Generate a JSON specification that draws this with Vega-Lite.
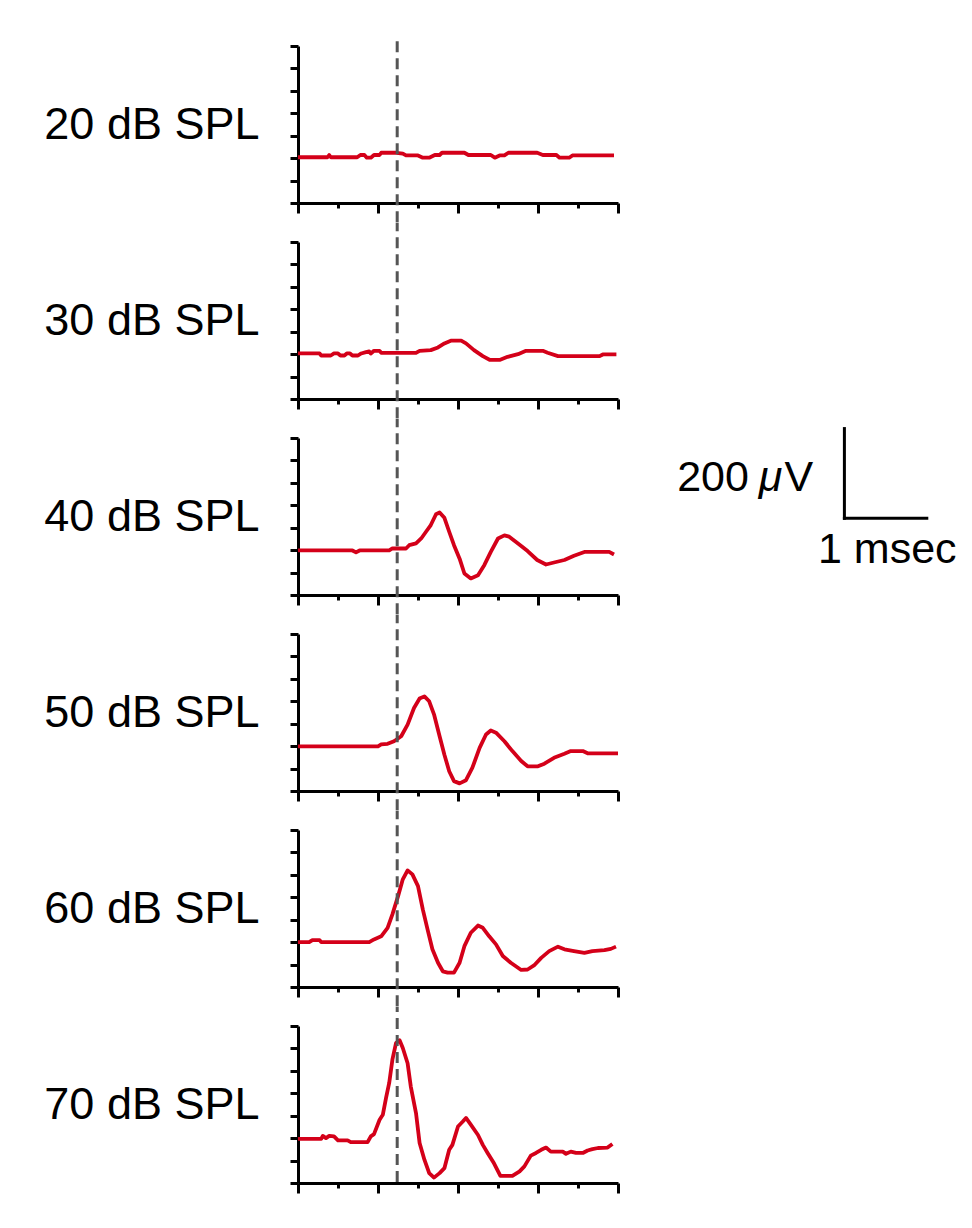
{
  "$schema": "https://vega.github.io/schema/vega-lite/v6.json",
  "background": "white",
  "padding": {"left": 44, "top": 37, "right": 5, "bottom": 5},
  "config": {
    "view": {"stroke": null},
    "axis": {"domainColor": "black", "domainWidth": 3, "tickColor": "black", "tickWidth": 3, "labels": false, "title": null, "grid": false}
  },
  "data": {"values": [
    {"level":"20 dB SPL","kind":"trace","t":0,"v":2},{"level":"20 dB SPL","kind":"trace","t":0.37,"v":2},{"level":"20 dB SPL","kind":"trace","t":0.39,"v":7},{"level":"20 dB SPL","kind":"trace","t":0.41,"v":2},{"level":"20 dB SPL","kind":"trace","t":0.74,"v":2},{"level":"20 dB SPL","kind":"trace","t":0.78,"v":7},{"level":"20 dB SPL","kind":"trace","t":0.83,"v":7},{"level":"20 dB SPL","kind":"trace","t":0.86,"v":1},{"level":"20 dB SPL","kind":"trace","t":0.91,"v":1},{"level":"20 dB SPL","kind":"trace","t":0.95,"v":7},{"level":"20 dB SPL","kind":"trace","t":1.02,"v":7},{"level":"20 dB SPL","kind":"trace","t":1.04,"v":12},{"level":"20 dB SPL","kind":"trace","t":1.23,"v":12},{"level":"20 dB SPL","kind":"trace","t":1.31,"v":10},{"level":"20 dB SPL","kind":"trace","t":1.35,"v":6},{"level":"20 dB SPL","kind":"trace","t":1.5,"v":6},{"level":"20 dB SPL","kind":"trace","t":1.56,"v":1},{"level":"20 dB SPL","kind":"trace","t":1.64,"v":1},{"level":"20 dB SPL","kind":"trace","t":1.71,"v":7},{"level":"20 dB SPL","kind":"trace","t":1.77,"v":7},{"level":"20 dB SPL","kind":"trace","t":1.8,"v":12},{"level":"20 dB SPL","kind":"trace","t":2.08,"v":12},{"level":"20 dB SPL","kind":"trace","t":2.13,"v":7},{"level":"20 dB SPL","kind":"trace","t":2.41,"v":7},{"level":"20 dB SPL","kind":"trace","t":2.46,"v":1},{"level":"20 dB SPL","kind":"trace","t":2.52,"v":6},{"level":"20 dB SPL","kind":"trace","t":2.58,"v":6},{"level":"20 dB SPL","kind":"trace","t":2.63,"v":12},{"level":"20 dB SPL","kind":"trace","t":2.99,"v":12},{"level":"20 dB SPL","kind":"trace","t":3.06,"v":7},{"level":"20 dB SPL","kind":"trace","t":3.23,"v":7},{"level":"20 dB SPL","kind":"trace","t":3.27,"v":1},{"level":"20 dB SPL","kind":"trace","t":3.39,"v":1},{"level":"20 dB SPL","kind":"trace","t":3.43,"v":6},{"level":"20 dB SPL","kind":"trace","t":3.95,"v":6},
    {"level":"30 dB SPL","kind":"trace","t":0,"v":1.5},{"level":"30 dB SPL","kind":"trace","t":0.27,"v":1.5},{"level":"30 dB SPL","kind":"trace","t":0.29,"v":-3},{"level":"30 dB SPL","kind":"trace","t":0.41,"v":-3},{"level":"30 dB SPL","kind":"trace","t":0.45,"v":1.5},{"level":"30 dB SPL","kind":"trace","t":0.5,"v":1.5},{"level":"30 dB SPL","kind":"trace","t":0.53,"v":-3},{"level":"30 dB SPL","kind":"trace","t":0.58,"v":-3},{"level":"30 dB SPL","kind":"trace","t":0.61,"v":1.5},{"level":"30 dB SPL","kind":"trace","t":0.65,"v":1.5},{"level":"30 dB SPL","kind":"trace","t":0.68,"v":-3},{"level":"30 dB SPL","kind":"trace","t":0.75,"v":-3},{"level":"30 dB SPL","kind":"trace","t":0.79,"v":1.5},{"level":"30 dB SPL","kind":"trace","t":0.85,"v":4.5},{"level":"30 dB SPL","kind":"trace","t":0.89,"v":6},{"level":"30 dB SPL","kind":"trace","t":0.91,"v":1.5},{"level":"30 dB SPL","kind":"trace","t":0.95,"v":7.4},{"level":"30 dB SPL","kind":"trace","t":1.02,"v":7.4},{"level":"30 dB SPL","kind":"trace","t":1.04,"v":3},{"level":"30 dB SPL","kind":"trace","t":1.475,"v":3},{"level":"30 dB SPL","kind":"trace","t":1.52,"v":7.4},{"level":"30 dB SPL","kind":"trace","t":1.66,"v":8.9},{"level":"30 dB SPL","kind":"trace","t":1.75,"v":15},{"level":"30 dB SPL","kind":"trace","t":1.83,"v":24},{"level":"30 dB SPL","kind":"trace","t":1.91,"v":30},{"level":"30 dB SPL","kind":"trace","t":2.04,"v":30},{"level":"30 dB SPL","kind":"trace","t":2.1,"v":24},{"level":"30 dB SPL","kind":"trace","t":2.2,"v":9},{"level":"30 dB SPL","kind":"trace","t":2.31,"v":-4.5},{"level":"30 dB SPL","kind":"trace","t":2.4,"v":-13},{"level":"30 dB SPL","kind":"trace","t":2.52,"v":-13},{"level":"30 dB SPL","kind":"trace","t":2.62,"v":-6},{"level":"30 dB SPL","kind":"trace","t":2.75,"v":0},{"level":"30 dB SPL","kind":"trace","t":2.85,"v":7.4},{"level":"30 dB SPL","kind":"trace","t":3.06,"v":7.4},{"level":"30 dB SPL","kind":"trace","t":3.12,"v":3},{"level":"30 dB SPL","kind":"trace","t":3.25,"v":-4.5},{"level":"30 dB SPL","kind":"trace","t":3.77,"v":-4.5},{"level":"30 dB SPL","kind":"trace","t":3.81,"v":-0.7},{"level":"30 dB SPL","kind":"trace","t":3.98,"v":-0.7},
    {"level":"40 dB SPL","kind":"trace","t":0,"v":-0.7},{"level":"40 dB SPL","kind":"trace","t":0.68,"v":-0.7},{"level":"40 dB SPL","kind":"trace","t":0.725,"v":-5},{"level":"40 dB SPL","kind":"trace","t":0.77,"v":-0.7},{"level":"40 dB SPL","kind":"trace","t":1.14,"v":-0.7},{"level":"40 dB SPL","kind":"trace","t":1.18,"v":3.7},{"level":"40 dB SPL","kind":"trace","t":1.35,"v":3.7},{"level":"40 dB SPL","kind":"trace","t":1.39,"v":11},{"level":"40 dB SPL","kind":"trace","t":1.475,"v":15},{"level":"40 dB SPL","kind":"trace","t":1.54,"v":26},{"level":"40 dB SPL","kind":"trace","t":1.6,"v":41},{"level":"40 dB SPL","kind":"trace","t":1.66,"v":56},{"level":"40 dB SPL","kind":"trace","t":1.725,"v":80},{"level":"40 dB SPL","kind":"trace","t":1.77,"v":84},{"level":"40 dB SPL","kind":"trace","t":1.83,"v":72},{"level":"40 dB SPL","kind":"trace","t":1.89,"v":41},{"level":"40 dB SPL","kind":"trace","t":1.95,"v":11},{"level":"40 dB SPL","kind":"trace","t":2.02,"v":-19},{"level":"40 dB SPL","kind":"trace","t":2.08,"v":-52},{"level":"40 dB SPL","kind":"trace","t":2.16,"v":-63},{"level":"40 dB SPL","kind":"trace","t":2.25,"v":-56},{"level":"40 dB SPL","kind":"trace","t":2.33,"v":-33},{"level":"40 dB SPL","kind":"trace","t":2.41,"v":-4},{"level":"40 dB SPL","kind":"trace","t":2.5,"v":26},{"level":"40 dB SPL","kind":"trace","t":2.58,"v":33},{"level":"40 dB SPL","kind":"trace","t":2.64,"v":30},{"level":"40 dB SPL","kind":"trace","t":2.75,"v":15},{"level":"40 dB SPL","kind":"trace","t":2.87,"v":-2},{"level":"40 dB SPL","kind":"trace","t":2.99,"v":-22},{"level":"40 dB SPL","kind":"trace","t":3.1,"v":-32},{"level":"40 dB SPL","kind":"trace","t":3.2,"v":-27.5},{"level":"40 dB SPL","kind":"trace","t":3.33,"v":-22},{"level":"40 dB SPL","kind":"trace","t":3.45,"v":-12.6},{"level":"40 dB SPL","kind":"trace","t":3.58,"v":-4},{"level":"40 dB SPL","kind":"trace","t":3.89,"v":-4},{"level":"40 dB SPL","kind":"trace","t":3.95,"v":-9.7},
    {"level":"50 dB SPL","kind":"trace","t":0,"v":-0.7},{"level":"50 dB SPL","kind":"trace","t":1.0,"v":-0.7},{"level":"50 dB SPL","kind":"trace","t":1.04,"v":3.7},{"level":"50 dB SPL","kind":"trace","t":1.12,"v":5.2},{"level":"50 dB SPL","kind":"trace","t":1.2,"v":11},{"level":"50 dB SPL","kind":"trace","t":1.29,"v":22},{"level":"50 dB SPL","kind":"trace","t":1.37,"v":48},{"level":"50 dB SPL","kind":"trace","t":1.45,"v":85},{"level":"50 dB SPL","kind":"trace","t":1.52,"v":106},{"level":"50 dB SPL","kind":"trace","t":1.58,"v":111},{"level":"50 dB SPL","kind":"trace","t":1.64,"v":100},{"level":"50 dB SPL","kind":"trace","t":1.7,"v":71},{"level":"50 dB SPL","kind":"trace","t":1.77,"v":22},{"level":"50 dB SPL","kind":"trace","t":1.83,"v":-19},{"level":"50 dB SPL","kind":"trace","t":1.89,"v":-56},{"level":"50 dB SPL","kind":"trace","t":1.95,"v":-78},{"level":"50 dB SPL","kind":"trace","t":2.02,"v":-83},{"level":"50 dB SPL","kind":"trace","t":2.1,"v":-76},{"level":"50 dB SPL","kind":"trace","t":2.18,"v":-48},{"level":"50 dB SPL","kind":"trace","t":2.27,"v":-4},{"level":"50 dB SPL","kind":"trace","t":2.35,"v":26},{"level":"50 dB SPL","kind":"trace","t":2.41,"v":35},{"level":"50 dB SPL","kind":"trace","t":2.475,"v":30},{"level":"50 dB SPL","kind":"trace","t":2.58,"v":11},{"level":"50 dB SPL","kind":"trace","t":2.68,"v":-11},{"level":"50 dB SPL","kind":"trace","t":2.79,"v":-33},{"level":"50 dB SPL","kind":"trace","t":2.87,"v":-45},{"level":"50 dB SPL","kind":"trace","t":3.0,"v":-45},{"level":"50 dB SPL","kind":"trace","t":3.08,"v":-39},{"level":"50 dB SPL","kind":"trace","t":3.2,"v":-26},{"level":"50 dB SPL","kind":"trace","t":3.33,"v":-17},{"level":"50 dB SPL","kind":"trace","t":3.41,"v":-11},{"level":"50 dB SPL","kind":"trace","t":3.56,"v":-11},{"level":"50 dB SPL","kind":"trace","t":3.62,"v":-16},{"level":"50 dB SPL","kind":"trace","t":4.0,"v":-16},
    {"level":"60 dB SPL","kind":"trace","t":0,"v":0},{"level":"60 dB SPL","kind":"trace","t":0.14,"v":0},{"level":"60 dB SPL","kind":"trace","t":0.18,"v":4.5},{"level":"60 dB SPL","kind":"trace","t":0.27,"v":4.5},{"level":"60 dB SPL","kind":"trace","t":0.29,"v":0},{"level":"60 dB SPL","kind":"trace","t":0.89,"v":0},{"level":"60 dB SPL","kind":"trace","t":0.95,"v":6},{"level":"60 dB SPL","kind":"trace","t":1.04,"v":13},{"level":"60 dB SPL","kind":"trace","t":1.12,"v":32},{"level":"60 dB SPL","kind":"trace","t":1.18,"v":62},{"level":"60 dB SPL","kind":"trace","t":1.25,"v":102},{"level":"60 dB SPL","kind":"trace","t":1.31,"v":140},{"level":"60 dB SPL","kind":"trace","t":1.37,"v":160},{"level":"60 dB SPL","kind":"trace","t":1.43,"v":151},{"level":"60 dB SPL","kind":"trace","t":1.5,"v":125},{"level":"60 dB SPL","kind":"trace","t":1.56,"v":73},{"level":"60 dB SPL","kind":"trace","t":1.62,"v":28},{"level":"60 dB SPL","kind":"trace","t":1.68,"v":-16},{"level":"60 dB SPL","kind":"trace","t":1.75,"v":-46},{"level":"60 dB SPL","kind":"trace","t":1.81,"v":-65},{"level":"60 dB SPL","kind":"trace","t":1.87,"v":-68},{"level":"60 dB SPL","kind":"trace","t":1.95,"v":-68},{"level":"60 dB SPL","kind":"trace","t":2.02,"v":-46},{"level":"60 dB SPL","kind":"trace","t":2.08,"v":-9},{"level":"60 dB SPL","kind":"trace","t":2.16,"v":21},{"level":"60 dB SPL","kind":"trace","t":2.25,"v":37},{"level":"60 dB SPL","kind":"trace","t":2.31,"v":32},{"level":"60 dB SPL","kind":"trace","t":2.39,"v":13},{"level":"60 dB SPL","kind":"trace","t":2.475,"v":-5},{"level":"60 dB SPL","kind":"trace","t":2.56,"v":-31},{"level":"60 dB SPL","kind":"trace","t":2.66,"v":-46},{"level":"60 dB SPL","kind":"trace","t":2.79,"v":-62},{"level":"60 dB SPL","kind":"trace","t":2.87,"v":-61},{"level":"60 dB SPL","kind":"trace","t":2.95,"v":-52},{"level":"60 dB SPL","kind":"trace","t":3.04,"v":-35},{"level":"60 dB SPL","kind":"trace","t":3.14,"v":-20},{"level":"60 dB SPL","kind":"trace","t":3.25,"v":-10},{"level":"60 dB SPL","kind":"trace","t":3.33,"v":-16},{"level":"60 dB SPL","kind":"trace","t":3.45,"v":-20},{"level":"60 dB SPL","kind":"trace","t":3.58,"v":-24},{"level":"60 dB SPL","kind":"trace","t":3.68,"v":-20},{"level":"60 dB SPL","kind":"trace","t":3.83,"v":-18},{"level":"60 dB SPL","kind":"trace","t":3.91,"v":-15},{"level":"60 dB SPL","kind":"trace","t":3.975,"v":-10},
    {"level":"70 dB SPL","kind":"trace","t":0,"v":-1.5},{"level":"70 dB SPL","kind":"trace","t":0.29,"v":-1.5},{"level":"70 dB SPL","kind":"trace","t":0.31,"v":5},{"level":"70 dB SPL","kind":"trace","t":0.35,"v":0},{"level":"70 dB SPL","kind":"trace","t":0.39,"v":5},{"level":"70 dB SPL","kind":"trace","t":0.45,"v":4},{"level":"70 dB SPL","kind":"trace","t":0.5,"v":-5},{"level":"70 dB SPL","kind":"trace","t":0.62,"v":-5},{"level":"70 dB SPL","kind":"trace","t":0.66,"v":-9},{"level":"70 dB SPL","kind":"trace","t":0.87,"v":-9},{"level":"70 dB SPL","kind":"trace","t":0.91,"v":4},{"level":"70 dB SPL","kind":"trace","t":0.95,"v":9},{"level":"70 dB SPL","kind":"trace","t":1.02,"v":41},{"level":"70 dB SPL","kind":"trace","t":1.06,"v":52},{"level":"70 dB SPL","kind":"trace","t":1.1,"v":89},{"level":"70 dB SPL","kind":"trace","t":1.14,"v":123},{"level":"70 dB SPL","kind":"trace","t":1.18,"v":175},{"level":"70 dB SPL","kind":"trace","t":1.225,"v":212},{"level":"70 dB SPL","kind":"trace","t":1.27,"v":218},{"level":"70 dB SPL","kind":"trace","t":1.31,"v":201},{"level":"70 dB SPL","kind":"trace","t":1.37,"v":167},{"level":"70 dB SPL","kind":"trace","t":1.41,"v":115},{"level":"70 dB SPL","kind":"trace","t":1.475,"v":56},{"level":"70 dB SPL","kind":"trace","t":1.52,"v":-11},{"level":"70 dB SPL","kind":"trace","t":1.58,"v":-48},{"level":"70 dB SPL","kind":"trace","t":1.64,"v":-78},{"level":"70 dB SPL","kind":"trace","t":1.7,"v":-88},{"level":"70 dB SPL","kind":"trace","t":1.77,"v":-78},{"level":"70 dB SPL","kind":"trace","t":1.83,"v":-67},{"level":"70 dB SPL","kind":"trace","t":1.89,"v":-26},{"level":"70 dB SPL","kind":"trace","t":1.93,"v":-15},{"level":"70 dB SPL","kind":"trace","t":2.0,"v":26},{"level":"70 dB SPL","kind":"trace","t":2.06,"v":37},{"level":"70 dB SPL","kind":"trace","t":2.1,"v":45},{"level":"70 dB SPL","kind":"trace","t":2.16,"v":30},{"level":"70 dB SPL","kind":"trace","t":2.25,"v":7},{"level":"70 dB SPL","kind":"trace","t":2.31,"v":-15},{"level":"70 dB SPL","kind":"trace","t":2.37,"v":-33},{"level":"70 dB SPL","kind":"trace","t":2.45,"v":-56},{"level":"70 dB SPL","kind":"trace","t":2.53,"v":-84},{"level":"70 dB SPL","kind":"trace","t":2.68,"v":-84},{"level":"70 dB SPL","kind":"trace","t":2.77,"v":-74},{"level":"70 dB SPL","kind":"trace","t":2.83,"v":-63},{"level":"70 dB SPL","kind":"trace","t":2.91,"v":-39},{"level":"70 dB SPL","kind":"trace","t":2.975,"v":-33},{"level":"70 dB SPL","kind":"trace","t":3.04,"v":-26},{"level":"70 dB SPL","kind":"trace","t":3.1,"v":-21},{"level":"70 dB SPL","kind":"trace","t":3.16,"v":-30},{"level":"70 dB SPL","kind":"trace","t":3.31,"v":-30},{"level":"70 dB SPL","kind":"trace","t":3.35,"v":-35},{"level":"70 dB SPL","kind":"trace","t":3.41,"v":-30},{"level":"70 dB SPL","kind":"trace","t":3.475,"v":-33},{"level":"70 dB SPL","kind":"trace","t":3.56,"v":-33},{"level":"70 dB SPL","kind":"trace","t":3.62,"v":-27.5},{"level":"70 dB SPL","kind":"trace","t":3.68,"v":-24.5},{"level":"70 dB SPL","kind":"trace","t":3.75,"v":-22},{"level":"70 dB SPL","kind":"trace","t":3.87,"v":-21},{"level":"70 dB SPL","kind":"trace","t":3.93,"v":-13},
    {"level":"20 dB SPL","kind":"marker","t":1.24,"v":-143,"v2":266},
    {"level":"30 dB SPL","kind":"marker","t":1.24,"v":-143,"v2":293},
    {"level":"40 dB SPL","kind":"marker","t":1.24,"v":-143,"v2":293},
    {"level":"50 dB SPL","kind":"marker","t":1.24,"v":-143,"v2":293},
    {"level":"60 dB SPL","kind":"marker","t":1.24,"v":-143,"v2":293},
    {"level":"70 dB SPL","kind":"marker","t":1.24,"v":-98,"v2":293},
    {"level":"40 dB SPL","kind":"scalebar","t":6.83,"t2":6.83,"v":71,"v2":271},
    {"level":"40 dB SPL","kind":"scalebar","t":6.83,"t2":7.86,"v":71,"v2":71},
    {"level":"40 dB SPL","kind":"text","t":4.74,"v":161,"label":"200"},
    {"level":"40 dB SPL","kind":"italic","t":5.76,"v":161,"label":"μ"},
    {"level":"40 dB SPL","kind":"text","t":6.08,"v":161,"label":"V"},
    {"level":"40 dB SPL","kind":"text","t":6.5,"v":0,"label":"1 msec"}
  ]},
  "facet": {
    "row": {
      "field": "level", "type": "nominal",
      "sort": ["20 dB SPL","30 dB SPL","40 dB SPL","50 dB SPL","60 dB SPL","70 dB SPL"],
      "header": {"title": null, "labelOrient": "left", "labelAngle": 0, "labelAlign": "left", "labelBaseline": "middle", "labelFont": "Liberation Sans", "labelFontSize": 45, "labelColor": "black", "labelPadding": 29}
    }
  },
  "spacing": {"row": 39},
  "bounds": "flush",
  "resolve": {"axis": {"x": "independent"}},
  "spec": {
    "width": 320,
    "height": 157,
    "encoding": {
      "x": {"field": "t", "type": "quantitative", "scale": {"domain": [0, 4], "nice": false, "zero": false},
            "axis": {"values": [0, 0.5, 1, 1.5, 2, 2.5, 3, 3.5, 4], "tickCount": 9, "tickSize": {"condition": {"test": "datum.value % 1 !== 0", "value": 5}, "value": 10}}},
      "y": {"field": "v", "type": "quantitative", "scale": {"domain": [-100, 250], "nice": false, "zero": false},
            "axis": {"values": [-100, -50, 0, 50, 100, 150, 200, 250], "tickCount": 8, "tickSize": 8}}
    },
    "layer": [
      {
        "transform": [{"filter": "datum.kind === 'trace'"}],
        "mark": {"type": "line", "color": "#d40019", "strokeWidth": 3.8, "strokeJoin": "round"}
      },
      {
        "transform": [{"filter": "datum.kind === 'marker'"}],
        "mark": {"type": "rule", "color": "#555555", "strokeWidth": 3, "strokeDash": [11, 6]},
        "encoding": {"y2": {"field": "v2"}}
      },
      {
        "transform": [{"filter": "datum.kind === 'scalebar'"}],
        "mark": {"type": "rule", "color": "black", "strokeWidth": 3, "strokeCap": "square"},
        "encoding": {"x2": {"field": "t2"}, "y2": {"field": "v2"}}
      },
      {
        "transform": [{"filter": "datum.kind === 'text'"}],
        "mark": {"type": "text", "align": "left", "baseline": "middle", "font": "Liberation Sans", "fontSize": 43, "color": "black"},
        "encoding": {"text": {"field": "label"}}
      },
      {
        "transform": [{"filter": "datum.kind === 'italic'"}],
        "mark": {"type": "text", "align": "left", "baseline": "middle", "font": "Liberation Sans", "fontSize": 43, "fontStyle": "italic", "color": "black"},
        "encoding": {"text": {"field": "label"}}
      }
    ]
  }
}
